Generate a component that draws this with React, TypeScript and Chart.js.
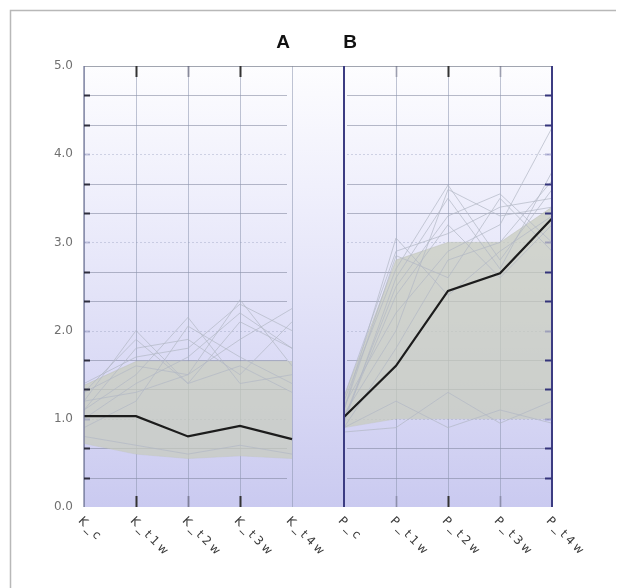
import React, { useEffect, useRef } from "react";
import { Chart, registerables } from "chart.js";

Chart.register(...registerables);

const categories = ["K_c", "K_t1w", "K_t2w", "K_t3w", "K_t4w", "P_c", "P_t1w", "P_t2w", "P_t3w", "P_t4w"];
const panelTitles = ["A", "B"];
const yGridValues = [0, 1 / 3, 2 / 3, 1, 4 / 3, 5 / 3, 2, 7 / 3, 8 / 3, 3, 10 / 3, 11 / 3, 4, 13 / 3, 14 / 3, 5];

// Panel A (K_*) mean and spread
const meanA = [1.03, 1.03, 0.8, 0.92, 0.77];
const bandUpperA = [1.38, 1.65, 1.65, 1.65, 1.65];
const bandLowerA = [0.72, 0.6, 0.55, 0.58, 0.55];
const linesA = [
  [1.2, 2.0, 1.4, 1.6, 1.3],
  [1.1, 1.5, 2.15, 1.4, 1.5],
  [1.3, 1.6, 1.5, 2.35, 1.6],
  [1.0, 1.4, 1.7, 2.2, 1.8],
  [1.2, 1.3, 1.5, 1.9, 2.25],
  [1.1, 1.8, 1.9, 1.5, 2.1],
  [0.9, 1.2, 2.05, 1.7, 1.4],
  [1.3, 1.9, 1.4, 2.1, 1.8],
  [0.8, 0.7, 0.6, 0.7, 0.6],
  [1.4, 1.7, 1.8, 2.3, 2.0],
];

// Panel B (P_*) mean and spread
const meanB = [1.02, 1.6, 2.45, 2.65, 3.27];
const bandUpperB = [1.25, 2.8, 3.0, 3.0, 3.4];
const bandLowerB = [0.9, 1.0, 1.0, 1.0, 1.0];
const linesB = [
  [1.1, 3.05, 2.4, 2.9, 3.3],
  [1.2, 2.7, 3.65, 2.8, 3.6],
  [1.0, 2.5, 3.3, 3.55, 3.0],
  [1.15, 2.2, 2.9, 3.2, 4.3],
  [0.95, 2.6, 3.5, 2.7, 3.8],
  [1.25, 2.9, 3.1, 3.4, 3.5],
  [0.9, 1.8, 2.8, 3.0, 3.7],
  [1.0, 2.4, 3.2, 2.6, 3.2],
  [0.85, 0.9, 1.3, 0.95, 1.2],
  [0.9, 1.2, 0.9, 1.1, 0.95],
  [1.05, 2.0, 3.6, 3.3, 3.4],
  [1.1, 2.85, 2.6, 3.5, 2.9],
];

const padA = (v: number[]) => [...v, null, null, null, null, null];
const padB = (v: number[]) => [null, null, null, null, null, ...v];

const backgroundPlugin = {
  id: "panelBackground",
  beforeDatasetsDraw(chart: any) {
    const { ctx, chartArea } = chart;
    const x = chart.scales.x;
    const y = chart.scales.y;
    const left = chartArea.left;
    const right = chartArea.right;
    const top = chartArea.top;
    const bottom = chartArea.bottom;
    ctx.save();
    // outer border (left and top)
    ctx.strokeStyle = "#b8b8b8";
    ctx.lineWidth = 1.5;
    ctx.beginPath();
    ctx.moveTo(2.5, chart.height);
    ctx.lineTo(2.5, 2.5);
    ctx.lineTo(chart.width, 2.5);
    ctx.stroke();
    // gradient
    const g = ctx.createLinearGradient(0, top - 18, 0, bottom);
    g.addColorStop(0, "rgba(255,255,255,1)");
    g.addColorStop(0.3, "rgba(240,240,252,1)");
    g.addColorStop(1, "rgba(202,202,240,1)");
    ctx.fillStyle = g;
    ctx.fillRect(left, top, right - left, bottom - top);

    const xA0 = x.getPixelForValue(0);
    const xA1 = x.getPixelForValue(4);
    const xB0 = x.getPixelForValue(5);
    const xB1 = x.getPixelForValue(9);

    // horizontal grid lines within panels
    yGridValues.forEach((v) => {
      const py = Math.round(y.getPixelForValue(v)) + 0.5;
      const isInt = Math.abs(v - Math.round(v)) < 1e-6;
      if (v === 0 || v === 5) return;
      if (isInt) {
        ctx.strokeStyle = "rgba(150,158,190,0.4)";
        ctx.setLineDash([2, 2]);
        ctx.lineWidth = 1;
      } else {
        ctx.strokeStyle = "rgba(125,132,155,0.55)";
        ctx.setLineDash([]);
        ctx.lineWidth = 1;
      }
      ctx.beginPath();
      ctx.moveTo(xA0, py);
      ctx.lineTo(xA1 - 5, py);
      ctx.moveTo(xB0 + 3, py);
      ctx.lineTo(xB1, py);
      ctx.stroke();
    });
    ctx.setLineDash([]);

    // vertical category lines
    for (let i = 0; i < categories.length; i++) {
      const px = Math.round(x.getPixelForValue(i)) + 0.5;
      ctx.strokeStyle = "rgba(140,150,175,0.55)";
      ctx.lineWidth = 1;
      ctx.beginPath();
      ctx.moveTo(px, top);
      ctx.lineTo(px, bottom);
      ctx.stroke();
    }
    // top border
    ctx.strokeStyle = "rgba(130,135,150,0.75)";
    ctx.beginPath();
    ctx.moveTo(left, Math.round(top) + 0.5);
    ctx.lineTo(right, Math.round(top) + 0.5);
    ctx.stroke();
    ctx.restore();
  },
  afterDatasetsDraw(chart: any) {
    const { ctx, chartArea } = chart;
    const x = chart.scales.x;
    const y = chart.scales.y;
    const top = chartArea.top;
    const bottom = chartArea.bottom;
    const xA0 = x.getPixelForValue(0);
    const xB0 = x.getPixelForValue(5);
    const xB1 = x.getPixelForValue(9);
    ctx.save();
    // panel B frame lines
    ctx.strokeStyle = "#3c3c82";
    ctx.lineWidth = 2;
    [xB0, xB1].forEach((px) => {
      ctx.beginPath();
      ctx.moveTo(px, top);
      ctx.lineTo(px, bottom);
      ctx.stroke();
    });
    ctx.strokeStyle = "rgba(110,115,150,0.8)";
    ctx.lineWidth = 1.5;
    ctx.beginPath();
    ctx.moveTo(xA0, top);
    ctx.lineTo(xA0, bottom);
    ctx.stroke();
    // small ticks on side axes
    yGridValues.forEach((v) => {
      if (v === 0 || v === 5) return;
      const py = Math.round(y.getPixelForValue(v)) + 0.5;
      const isInt = Math.abs(v - Math.round(v)) < 1e-6;
      ctx.lineWidth = 2;
      ctx.strokeStyle = isInt ? "rgba(120,125,170,0.4)" : "#2e2e3e";
      ctx.beginPath();
      ctx.moveTo(xA0, py);
      ctx.lineTo(xA0 + 6, py);
      ctx.stroke();
      ctx.strokeStyle = isInt ? "rgba(90,90,160,0.4)" : "#34347a";
      ctx.beginPath();
      ctx.moveTo(xB1 - 7, py);
      ctx.lineTo(xB1, py);
      ctx.stroke();
    });
    // ticks at top and bottom of interior category lines
    const tickStyles = [null, "#333", "rgba(90,90,110,0.55)", "#333", null, null, "rgba(90,90,110,0.35)", "#333", "rgba(90,90,110,0.35)", null];
    tickStyles.forEach((c, i) => {
      if (!c) return;
      const px = Math.round(x.getPixelForValue(i)) + 0.5;
      ctx.strokeStyle = c;
      ctx.lineWidth = 2;
      ctx.beginPath();
      ctx.moveTo(px, top);
      ctx.lineTo(px, top + 11);
      ctx.moveTo(px, bottom - 11);
      ctx.lineTo(px, bottom);
      ctx.stroke();
    });
    // panel titles
    ctx.fillStyle = "#111";
    ctx.font = "bold 19px 'Liberation Sans', Arial, sans-serif";
    ctx.textAlign = "center";
    ctx.textBaseline = "middle";
    ctx.fillText(panelTitles[0], x.getPixelForValue(4) - 9, top - 23);
    ctx.fillText(panelTitles[1], x.getPixelForValue(5) + 6, top - 23);
    // rotated category labels
    ctx.fillStyle = "#3a3a3a";
    ctx.font = "12px 'DejaVu Sans', sans-serif";
    try {
      ctx.letterSpacing = "3px";
    } catch (e) {}
    ctx.textAlign = "left";
    ctx.textBaseline = "middle";
    categories.forEach((c, i) => {
      const px = x.getPixelForValue(i);
      ctx.save();
      ctx.translate(px - 4, bottom + 12);
      ctx.rotate(Math.PI / 4);
      ctx.fillText(c, 0, 0);
      ctx.restore();
    });
    ctx.restore();
  },
};

export default function App() {
  const ref = useRef<HTMLCanvasElement | null>(null);
  useEffect(() => {
    if (!ref.current) return;
    const lightLine = (data: (number | null)[]) => ({
      data,
      borderColor: "rgba(178,184,196,0.7)",
      borderWidth: 1,
      pointRadius: 0,
      fill: false,
      order: 2,
      spanGaps: false,
    });
    const datasets: any[] = [
      {
        label: "Mean A",
        data: padA(meanA),
        borderColor: "#1c1c1c",
        borderWidth: 2.2,
        pointRadius: 0,
        fill: false,
        order: 0,
      },
      {
        label: "Mean B",
        data: padB(meanB),
        borderColor: "#1c1c1c",
        borderWidth: 2.2,
        pointRadius: 0,
        fill: false,
        order: 0,
      },
      ...linesA.map((l) => lightLine(padA(l))),
      ...linesB.map((l) => lightLine(padB(l))),
    ];
    const bandIndexA = datasets.length;
    datasets.push({
      label: "Upper A",
      data: padA(bandUpperA),
      borderColor: "rgba(190,194,182,0.5)",
      borderWidth: 1,
      pointRadius: 0,
      backgroundColor: "rgba(200,204,188,0.72)",
      fill: bandIndexA + 1,
      order: 3,
    });
    datasets.push({
      label: "Lower A",
      data: padA(bandLowerA),
      borderColor: "rgba(190,194,182,0.4)",
      borderWidth: 1,
      pointRadius: 0,
      fill: false,
      order: 3,
    });
    const bandIndexB = datasets.length;
    datasets.push({
      label: "Upper B",
      data: padB(bandUpperB),
      borderColor: "rgba(190,194,182,0.5)",
      borderWidth: 1,
      pointRadius: 0,
      backgroundColor: "rgba(200,204,188,0.72)",
      fill: bandIndexB + 1,
      order: 3,
    });
    datasets.push({
      label: "Lower B",
      data: padB(bandLowerB),
      borderColor: "rgba(190,194,182,0.4)",
      borderWidth: 1,
      pointRadius: 0,
      fill: false,
      order: 3,
    });

    const chart = new Chart(ref.current, {
      type: "line",
      data: { labels: categories, datasets },
      options: {
        animation: false,
        responsive: false,
        maintainAspectRatio: false,
        layout: { padding: { top: 58, right: 72, bottom: 0, left: 0 } },
        plugins: { legend: { display: false }, tooltip: { enabled: false } },
        elements: { line: { tension: 0 } },
        scales: {
          x: {
            type: "category",
            offset: false,
            grid: { display: false, drawTicks: false },
            border: { display: false },
            ticks: { display: false },
            afterFit: (s: any) => {
              s.height = 81;
            },
          },
          y: {
            min: 0,
            max: 5,
            grid: { display: false, drawTicks: false },
            border: { display: false },
            afterBuildTicks: (s: any) => {
              s.ticks = yGridValues.map((v) => ({ value: v }));
            },
            afterFit: (s: any) => {
              s.width = 76;
            },
            ticks: {
              autoSkip: false,
              padding: 11,
              color: "#707070",
              font: { family: "'DejaVu Sans', sans-serif", size: 12 },
              callback: (v: any) => {
                const n = Number(v);
                return Math.abs(n - Math.round(n)) < 1e-6 ? n.toFixed(1) : "";
              },
            },
          },
        },
      },
      plugins: [backgroundPlugin],
    });
    return () => chart.destroy();
  }, []);
  return (
    <div style={{ width: 616, height: 580 }}>
      <canvas ref={ref} width={616} height={580} style={{ display: "block" }} />
    </div>
  );
}
